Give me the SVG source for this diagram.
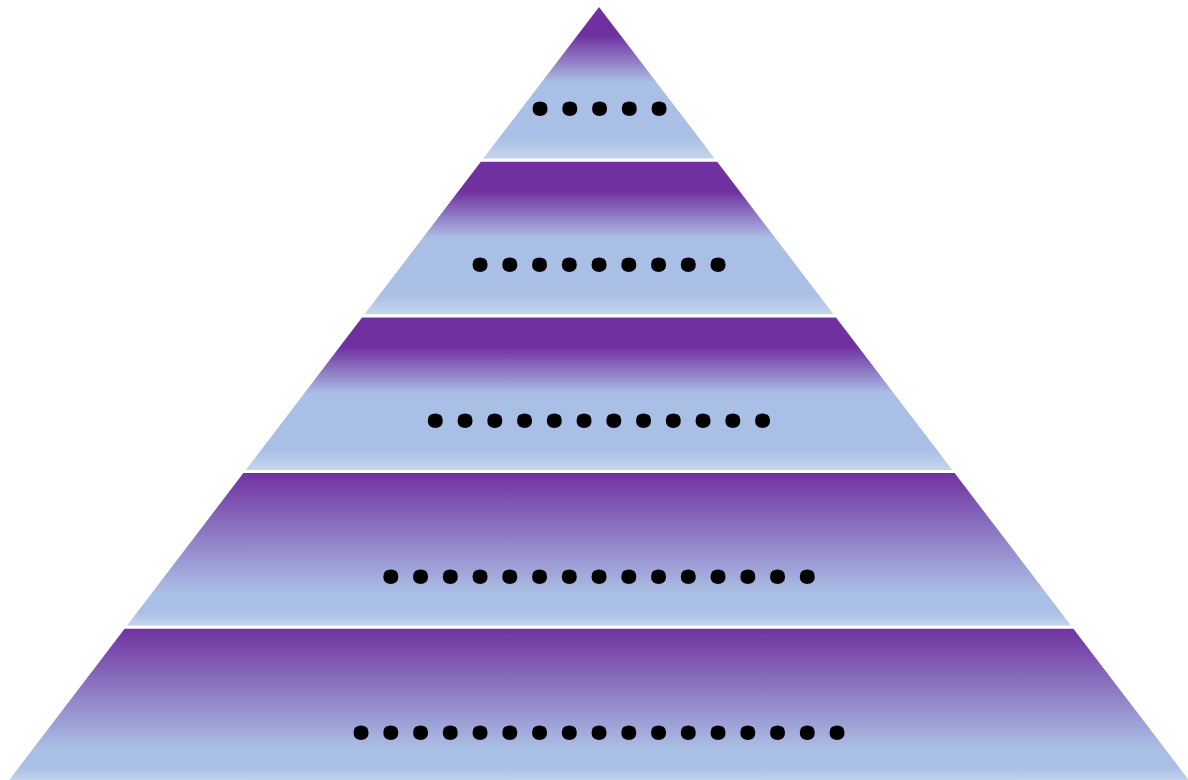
<svg xmlns="http://www.w3.org/2000/svg" width="1188" height="780" viewBox="0 0 1188 780">
  <defs>
    <linearGradient id="gA" x1="0" y1="0" x2="0" y2="1">
      <stop offset="0" stop-color="#7030A0"/>
      <stop offset="0.2" stop-color="#7030A0"/>
      <stop offset="0.5" stop-color="#AABFE5"/>
      <stop offset="0.86" stop-color="#AABFE5"/>
      <stop offset="1" stop-color="#C8D7EE"/>
    </linearGradient>
    <linearGradient id="gB" x1="0" y1="0" x2="0" y2="1">
      <stop offset="0" stop-color="#7030A0"/>
      <stop offset="0.78" stop-color="#AABFE5"/>
      <stop offset="0.9" stop-color="#AABFE5"/>
      <stop offset="1" stop-color="#C8D7EE"/>
    </linearGradient>
  </defs>
  <style>
    .layer { stroke: #FFFFFF; stroke-width: 3; stroke-linejoin: miter; }
    .dots { font-family: "Open Sans", "Noto Sans", sans-serif; font-weight: bold; font-size: 88px; fill: #000000; text-anchor: middle; }
  </style>
  <rect width="1188" height="780" fill="#FFFFFF"/>
  <g id="layer1">
    <polygon class="layer" fill="url(#gA)" points="599,4.5 717.8,160.2 480.2,160.2"/>
    <text class="dots" x="540 569.75 599.5 629.25 659" y="115">.....</text>
  </g>
  <g id="layer2">
    <polygon class="layer" fill="url(#gA)" points="480.2,160.2 717.8,160.2 836.6,315.9 361.4,315.9"/>
    <text class="dots" x="480 509.75 539.5 569.25 599 628.75 658.5 688.25 718" y="271.3">.........</text>
  </g>
  <g id="layer3">
    <polygon class="layer" fill="url(#gA)" points="361.4,315.9 836.6,315.9 955.4,471.6 242.6,471.6"/>
    <text class="dots" x="435.4 465.1 494.9 524.6 554.4 584.1 613.9 643.6 673.4 703.1 732.9 762.6" y="426.8">............</text>
  </g>
  <g id="layer4">
    <polygon class="layer" fill="url(#gB)" points="242.6,471.6 955.4,471.6 1074.2,627.3 123.8,627.3"/>
    <text class="dots" x="390.75 420.5 450.25 480 509.75 539.5 569.25 599 628.75 658.5 688.25 718 747.75 777.5 807.25" y="582.8">...............</text>
  </g>
  <g id="layer5">
    <polygon class="layer" fill="url(#gB)" points="123.8,627.3 1074.2,627.3 1193,783 5,783"/>
    <text class="dots" x="361 390.75 420.5 450.25 480 509.75 539.5 569.25 599 628.75 658.5 688.25 718 747.75 777.5 807.25 837" y="738.5">.................</text>
  </g>
  <g id="connectors"/>
</svg>
